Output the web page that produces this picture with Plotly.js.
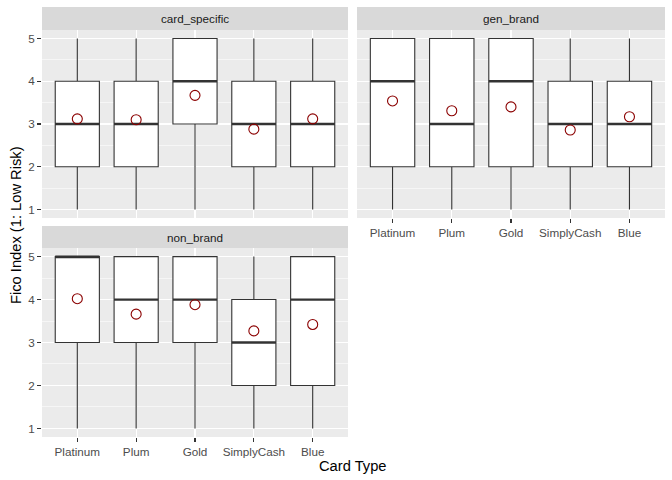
<!DOCTYPE html>
<html>
<head>
<meta charset="utf-8">
<script src="https://cdn.plot.ly/plotly-3.0.1.min.js"></script>
<style>html,body{margin:0;padding:0;background:#fff;}#chart{width:672px;height:480px;}</style>
</head>
<body>
<div id="chart"></div>
<script>
// ---- data ----
const categories = ["Platinum", "Plum", "Gold", "SimplyCash", "Blue"];
const panels = ["card_specific", "gen_brand", "non_brand"];

const csMin = [1, 1, 1, 1, 1];
const csQ1  = [2, 2, 3, 2, 2];
const csMed = [3, 3, 4, 3, 3];
const csQ3  = [4, 4, 5, 4, 4];
const csMax = [5, 5, 5, 5, 5];
const csMean = [3.12, 3.10, 3.67, 2.88, 3.12];

const gbMin = [1, 1, 1, 1, 1];
const gbQ1  = [2, 2, 2, 2, 2];
const gbMed = [4, 3, 4, 3, 3];
const gbQ3  = [5, 5, 5, 4, 4];
const gbMax = [5, 5, 5, 5, 5];
const gbMean = [3.54, 3.31, 3.40, 2.86, 3.17];

const nbMin = [1, 1, 1, 1, 1];
const nbQ1  = [3, 3, 3, 2, 2];
const nbMed = [5, 4, 4, 3, 4];
const nbQ3  = [5, 5, 5, 4, 5];
const nbMax = [5, 5, 5, 5, 5];
const nbMean = [4.02, 3.66, 3.88, 3.27, 3.42];

const yTicks = [1, 2, 3, 4, 5];

// ---- build ----
const pos = categories.map((c, i) => i + 1);
const boxWidth = 0.75;
const boxColor = "#333333";
const meanColor = "#8B0000";

const series = [
  {min: csMin, q1: csQ1, med: csMed, q3: csQ3, max: csMax, mean: csMean, xa: "x", ya: "y"},
  {min: gbMin, q1: gbQ1, med: gbMed, q3: gbQ3, max: gbMax, mean: gbMean, xa: "x2", ya: "y2"},
  {min: nbMin, q1: nbQ1, med: nbMed, q3: nbQ3, max: nbMax, mean: nbMean, xa: "x3", ya: "y3"}
];

const traces = [];
series.forEach(s => {
  traces.push({
    type: "box", x: pos, q1: s.q1, median: s.med, q3: s.q3,
    lowerfence: s.min, upperfence: s.max,
    width: boxWidth, whiskerwidth: 0,
    fillcolor: "#FFFFFF", line: {color: boxColor, width: 1.1},
    xaxis: s.xa, yaxis: s.ya, showlegend: false, hoverinfo: "skip"
  });
  const mx = [], my = [];
  pos.forEach((p, i) => { mx.push(p - boxWidth / 2, p + boxWidth / 2, null); my.push(s.med[i], s.med[i], null); });
  traces.push({
    type: "scatter", mode: "lines", x: mx, y: my,
    line: {color: boxColor, width: 2.3},
    xaxis: s.xa, yaxis: s.ya, showlegend: false, hoverinfo: "skip"
  });
  traces.push({
    type: "scatter", mode: "markers", x: pos, y: s.mean,
    marker: {symbol: "circle-open", size: 10, color: meanColor, line: {width: 1.1, color: meanColor}},
    xaxis: s.xa, yaxis: s.ya, showlegend: false, hoverinfo: "skip"
  });
});

const W = 672, H = 480;
const px = v => v / W;
const py = v => 1 - v / H;

const tickFont = {family: "Liberation Sans, Arial, sans-serif", size: 11.7, color: "#4D4D4D"};

function xAxis(dom, showLabels, anchor) {
  return {
    domain: dom, range: [0.4, 5.6], anchor: anchor,
    tickmode: "array", tickvals: pos, ticktext: categories,
    showticklabels: showLabels, ticks: showLabels ? "outside" : "", ticklen: 4, tickwidth: 1.1, tickcolor: "#333333",
    showgrid: true, gridcolor: "#FFFFFF", gridwidth: 1.1,
    zeroline: false, showline: false, tickfont: tickFont, fixedrange: true
  };
}
function yAxis(dom, showLabels, anchor) {
  return {
    domain: dom, range: [0.8, 5.2], anchor: anchor,
    tickmode: "array", tickvals: yTicks, ticktext: yTicks.map(String),
    showticklabels: showLabels, ticks: showLabels ? "outside" : "", ticklen: 4, tickwidth: 1.1, tickcolor: "#333333",
    showgrid: true, gridcolor: "#FFFFFF", gridwidth: 1.1,
    minor: {dtick: 0.5, tick0: 0.5, showgrid: true, gridcolor: "#FFFFFF", gridwidth: 0.55, ticks: ""},
    zeroline: false, showline: false, tickfont: tickFont, fixedrange: true
  };
}

const colL = [px(42), px(348)];
const colR = [px(357), px(665)];
const rowT = [py(218), py(30)];
const rowB = [py(437), py(248)];

const shapes = [];
const annotations = [];
const panelBg = [
  {x: colL, y: rowT}, {x: colR, y: rowT}, {x: colL, y: rowB}
];
const strips = [
  {x: colL, y: [py(30), py(7)]}, {x: colR, y: [py(30), py(7)]}, {x: colL, y: [py(248), py(226)]}
];
panelBg.forEach(p => shapes.push({type: "rect", xref: "paper", yref: "paper", x0: p.x[0], x1: p.x[1], y0: p.y[0], y1: p.y[1], fillcolor: "#EBEBEB", line: {width: 0}, layer: "below"}));
strips.forEach((s, i) => {
  shapes.push({type: "rect", xref: "paper", yref: "paper", x0: s.x[0], x1: s.x[1], y0: s.y[0], y1: s.y[1], fillcolor: "#D9D9D9", line: {width: 0}, layer: "below"});
  annotations.push({xref: "paper", yref: "paper", x: (s.x[0] + s.x[1]) / 2, y: (s.y[0] + s.y[1]) / 2, text: panels[i], showarrow: false, xanchor: "center", yanchor: "middle", font: {family: "Liberation Sans, Arial, sans-serif", size: 11.7, color: "#1A1A1A"}});
});
annotations.push({xref: "paper", yref: "paper", x: px(353), y: py(466), text: "Card Type", showarrow: false, xanchor: "center", yanchor: "middle", font: {family: "Liberation Sans, Arial, sans-serif", size: 14.7, color: "#000000"}});
annotations.push({xref: "paper", yref: "paper", x: px(16), y: py(225), text: "Fico Index (1: Low Risk)", textangle: -90, showarrow: false, xanchor: "center", yanchor: "middle", font: {family: "Liberation Sans, Arial, sans-serif", size: 14.7, color: "#000000"}});

const layout = {
  width: W, height: H,
  margin: {l: 0, r: 0, t: 0, b: 0},
  paper_bgcolor: "#FFFFFF", plot_bgcolor: "rgba(0,0,0,0)",
  showlegend: false,
  xaxis: xAxis(colL, false, "y"),
  yaxis: yAxis(rowT, true, "x"),
  xaxis2: xAxis(colR, true, "y2"),
  yaxis2: yAxis(rowT, false, "x2"),
  xaxis3: xAxis(colL, true, "y3"),
  yaxis3: yAxis(rowB, true, "x3"),
  shapes: shapes, annotations: annotations,
  boxmode: "overlay"
};

Plotly.newPlot("chart", traces, layout, {displayModeBar: false, staticPlot: true});
</script>
</body>
</html>
